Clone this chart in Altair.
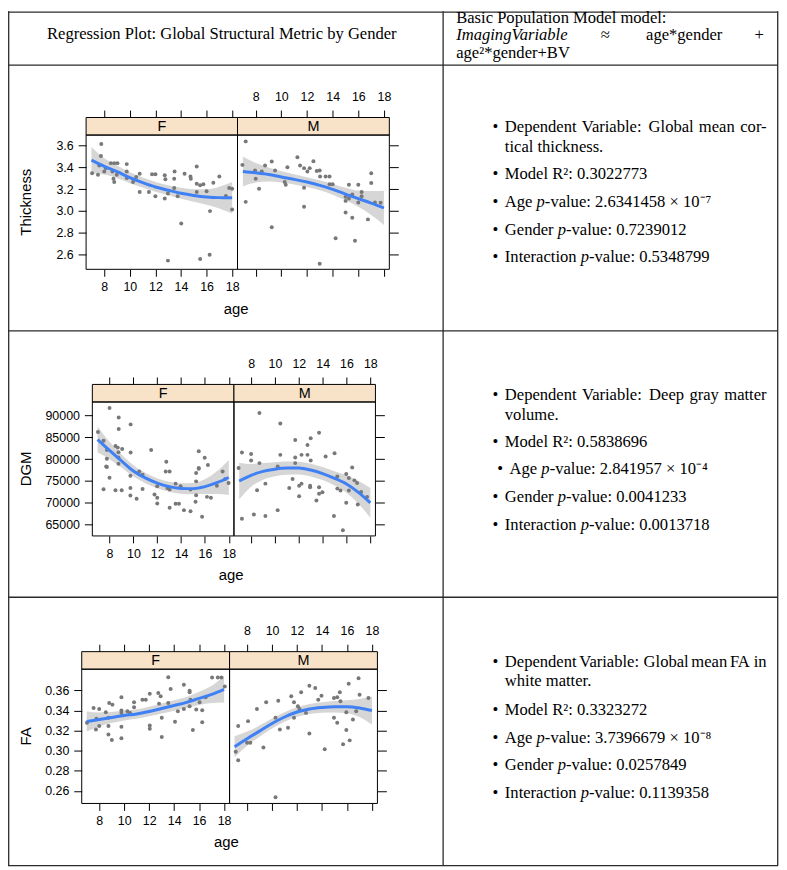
import altair as alt
import pandas as pd

# ---------------- values ----------------
curve_age = [7, 8, 9, 10, 11, 12, 13, 14, 15, 16, 17, 18]
x_ticks = [8, 10, 12, 14, 16, 18]
panel_names = ["F", "M"]
y_titles = ["Thickness", "DGM", "FA"]
y_ticks = [[2.6, 2.8, 3.0, 3.2, 3.4, 3.6],
           [65000, 70000, 75000, 80000, 85000, 90000],
           [0.26, 0.28, 0.30, 0.32, 0.34, 0.36]]
y_formats = [".1f", "d", ".2f"]

# Thickness
thk_F_age = [7.77, 7.74, 7.05, 7.51, 7.61, 8.00, 8.13, 8.52, 8.78, 9.03, 8.64, 8.72, 8.78, 8.98,
             9.76, 9.76, 9.76, 10.25, 10.50, 10.77, 10.77, 11.49, 11.74, 12.00, 12.00, 12.73,
             12.78, 12.73, 12.98, 13.50, 13.47, 13.47, 12.98, 14.02, 14.28, 14.74, 14.77, 13.74,
             15.23, 15.23, 15.23, 15.50, 15.75, 16.00, 16.27, 15.50, 16.24, 16.53, 17.00, 17.51,
             17.77, 18.00, 18.00]
thk_F_val = [3.615, 3.505, 3.347, 3.332, 3.418, 3.363, 3.393, 3.439, 3.439, 3.439, 3.363, 3.296,
             3.265, 3.332, 3.430, 3.363, 3.302, 3.265, 3.311, 3.341, 3.174, 3.174, 3.336, 3.336,
             3.135, 3.327, 3.290, 3.113, 3.159, 3.363, 3.296, 3.211, 2.543, 2.885, 3.341, 3.317,
             3.296, 3.135, 3.409, 3.250, 3.174, 3.235, 3.244, 3.180, 2.998, 2.557, 2.597, 3.259,
             3.317, 3.138, 3.211, 3.204, 3.013]
thk_M_age = [7.22, 6.96, 7.22, 7.95, 8.00, 8.26, 8.47, 8.73, 9.25, 9.25, 9.51, 10.26, 10.34, 10.47,
             11.25, 11.46, 11.77, 11.77, 11.77, 12.03, 12.21, 12.50, 12.76, 12.99, 13.02, 13.45,
             13.76, 13.76, 14.00, 12.99, 14.23, 15.01, 15.01, 15.01, 15.27, 15.27, 15.53, 15.53,
             15.74, 16.00, 16.00, 16.26, 16.26, 16.75, 17.01, 17.01, 17.30, 17.74]
thk_M_val = [3.639, 3.423, 3.083, 3.372, 3.296, 3.204, 3.363, 3.418, 3.454, 2.849, 3.372, 3.265,
             3.241, 3.402, 3.493, 3.418, 3.393, 3.213, 3.038, 3.363, 3.393, 3.456, 3.366, 3.372,
             3.317, 3.317, 3.317, 3.244, 3.244, 2.515, 2.749, 3.129, 3.092, 2.986, 3.241, 3.113,
             3.150, 2.937, 2.725, 3.241, 3.077, 3.174, 3.135, 2.922, 3.347, 3.256, 3.077, 3.074]
thk_F_fit = [3.467, 3.41, 3.36, 3.305, 3.26, 3.22, 3.19, 3.162, 3.142, 3.128, 3.122, 3.121]
thk_F_half = [0.12, 0.075, 0.058, 0.05, 0.046, 0.045, 0.046, 0.05, 0.058, 0.072, 0.1, 0.145]
thk_M_fit = [3.362, 3.35, 3.335, 3.312, 3.29, 3.265, 3.235, 3.198, 3.155, 3.112, 3.072, 3.028]
thk_M_half = [0.137, 0.09, 0.065, 0.052, 0.047, 0.045, 0.046, 0.05, 0.058, 0.075, 0.11, 0.157]

# Deep gray matter
dgm_F_age = [7.03, 8.00, 7.50, 7.78, 8.77, 8.77, 8.50, 8.69, 9.06, 8.75, 7.78, 8.75, 7.72, 8.75,
             9.77, 9.77, 11.49, 12.76, 15.48, 15.98, 16.25, 15.48,
             7.78, 8.00, 7.50, 8.50, 9.02, 9.75, 9.75, 9.75, 10.27, 10.49, 10.77, 10.77, 11.77,
             12.00, 12.00, 12.00, 12.71, 13.04, 12.85, 13.04, 13.04, 13.54, 13.54, 13.82, 13.96,
             14.24, 14.79, 14.79, 15.26, 15.26, 15.21, 15.26, 15.48, 15.76, 16.17, 16.50, 17.00,
             17.48, 17.70, 17.98]
dgm_F_val = [86200, 91730, 84230, 82110, 89550, 86890, 83020, 82640, 82340, 81590, 80070, 80360,
             78320, 78930, 87960, 81500, 82110, 79390, 81820, 80300, 78640, 77960,
             78180, 75750, 73090, 72860, 72860, 76200, 73410, 71660, 70910, 77180, 76430, 73180,
             71890, 71140, 69840, 73770, 77180, 77180, 73410, 73020, 68860, 74390, 69770, 69770,
             73770, 68320, 68090, 73020, 74910, 71730, 70230, 76820, 77800, 66820, 71360, 71140,
             73930, 77180, 75460, 74550]
dgm_M_age = [8.70, 10.45, 7.23, 8.00, 8.00, 8.70, 10.45, 10.23, 11.70, 11.70, 11.70, 12.23, 12.73,
             12.73, 13.00, 13.00, 13.70, 14.25, 15.00, 16.48, 6.95,
             7.23, 8.50, 8.23, 9.20, 9.20, 10.23, 11.20, 11.48, 12.03, 12.03, 12.23, 12.95, 12.95,
             13.48, 13.70, 13.70, 13.98, 14.95, 15.23, 15.23, 15.50, 15.70, 15.98, 15.98, 16.20,
             16.20, 16.67, 16.89, 16.95, 17.23, 17.73]
dgm_M_val = [90590, 88180, 81500, 81200, 79680, 79090, 80980, 78320, 84390, 80360, 79090, 80980,
             80980, 83250, 84770, 79680, 86050, 80590, 81360, 78090, 77960,
             66360, 72860, 67340, 74390, 66980, 68320, 73410, 75460, 71500, 73930, 74390, 73930,
             73550, 70520, 73550, 72050, 72410, 66980, 76050, 73250, 72800, 63700, 76590, 70000,
             75680, 72800, 75140, 74550, 69610, 72500, 71360]
dgm_F_fit = [84500, 82000, 79600, 77300, 75700, 74500, 73700, 73300, 73250, 73700, 74600, 75800]
dgm_F_half = [3000, 2000, 1500, 1300, 1200, 1150, 1150, 1200, 1300, 1700, 2600, 4000]
dgm_M_fit = [75000, 76300, 77200, 77700, 77950, 77950, 77500, 76700, 75600, 74300, 72400, 70000]
dgm_M_half = [4200, 2600, 1900, 1600, 1500, 1450, 1450, 1500, 1650, 2000, 2600, 3400]

# FA
fa_F_age = [7.02, 7.55, 8.00, 7.78, 7.74, 8.00, 8.53, 8.74, 8.74, 8.74, 8.80, 9.06, 9.78, 9.78,
            9.78, 10.26, 10.47, 10.79, 10.79, 9.78, 11.46, 11.73, 12.05, 12.05, 12.05, 12.73,
            12.92, 12.79, 13.01, 13.53, 13.53, 13.72, 14.07, 14.30, 14.78, 14.78, 15.24, 15.24,
            15.31, 15.24, 15.50, 15.77, 16.04, 16.25, 16.25, 16.52, 17.04, 17.50, 17.79, 18.06,
            9.01, 9.78, 13.01]
fa_F_val = [0.3278, 0.3425, 0.3415, 0.3317, 0.3211, 0.3245, 0.3383, 0.3327, 0.3245, 0.3162,
            0.3475, 0.3458, 0.3399, 0.3376, 0.3238, 0.3393, 0.3376, 0.3482, 0.3432, 0.3531,
            0.3507, 0.3507, 0.3566, 0.3251, 0.3218, 0.3573, 0.3541, 0.3468, 0.3327, 0.3731,
            0.3475, 0.3613, 0.3287, 0.3393, 0.3655, 0.3415, 0.3596, 0.3580, 0.3507, 0.3442,
            0.3206, 0.3409, 0.3482, 0.3403, 0.3284, 0.3531, 0.3728, 0.3728, 0.3728, 0.3639,
            0.3107, 0.3123, 0.3136]
fa_M_age = [7.29, 8.08, 8.79, 9.53, 10.50, 10.28, 10.63, 11.28, 11.54, 11.76, 11.76, 12.07, 12.20,
            12.33, 12.72, 12.99, 12.99, 13.46, 13.70, 13.96, 14.96, 15.22, 15.48, 14.96, 15.22,
            15.43, 16.14, 15.95, 15.95, 16.48, 16.74, 16.93, 17.01, 17.72, 7.09, 7.29, 8.00, 8.26,
            9.31, 10.28, 14.22, 15.69, 16.22]
fa_M_val = [0.3245, 0.3294, 0.3415, 0.3482, 0.3497, 0.3327, 0.3211, 0.3228, 0.3541, 0.3482,
            0.3327, 0.3442, 0.3415, 0.3580, 0.3376, 0.3645, 0.3172, 0.3623, 0.3507, 0.3547,
            0.3524, 0.3531, 0.3492, 0.3327, 0.3278, 0.3580, 0.3665, 0.3383, 0.3206, 0.3310,
            0.3393, 0.3721, 0.3557, 0.3524, 0.2989, 0.2906, 0.3080, 0.3080, 0.3031, 0.2538,
            0.3014, 0.3064, 0.3103]
fa_F_fit = [0.329, 0.331, 0.333, 0.335, 0.3365, 0.339, 0.342, 0.345, 0.348, 0.352, 0.356, 0.361]
fa_F_half = [0.01, 0.007, 0.0055, 0.005, 0.0048, 0.0048, 0.005, 0.0052, 0.0055, 0.0065, 0.0085, 0.013]
fa_M_fit = [0.304, 0.312, 0.3195, 0.327, 0.3335, 0.3385, 0.3415, 0.343, 0.3437, 0.3437, 0.3425, 0.340]
fa_M_half = [0.0105, 0.007, 0.0055, 0.005, 0.0048, 0.0048, 0.005, 0.0052, 0.0056, 0.0065, 0.009, 0.014]

# table text
header_left = "Regression Plot: Global Structural Metric by Gender"
header_right_1 = "Basic Population Model model:"
header_right_2 = ["ImagingVariable", "\u2248", "age*gender", "+"]
header_right_3 = "age\u00b2*gender+BV"
dep_var_words = [["Dependent", "Variable:", "Global", "mean", "cor-"],
                 ["Dependent", "Variable:", "Deep", "gray", "matter"],
                 ["Dependent", "Variable:", "Global", "mean", "FA", "in"]]
dep_var_line2 = ["tical thickness.", "volume.", "white matter."]
model_r2 = ["0.3022773", "0.5838696", "0.3323272"]
age_p = ["2.6341458 \u00d7 10\u207b\u2077", "2.841957 \u00d7 10\u207b\u2074", "3.7396679 \u00d7 10\u207b\u2078"]
gender_p = ["0.7239012", "0.0041233", "0.0257849"]
inter_p = ["0.5348799", "0.0013718", "0.1139358"]

series = [
    [(thk_F_age, thk_F_val, thk_F_fit, thk_F_half), (thk_M_age, thk_M_val, thk_M_fit, thk_M_half)],
    [(dgm_F_age, dgm_F_val, dgm_F_fit, dgm_F_half), (dgm_M_age, dgm_M_val, dgm_M_fit, dgm_M_half)],
    [(fa_F_age, fa_F_val, fa_F_fit, fa_F_half), (fa_M_age, fa_M_val, fa_M_fit, fa_M_half)],
]

# ---------------- layout (pixels) ----------------
W, H = 777, 862
ROW = [
    dict(xF=(78.7, 231.3), xM=(231.3, 384.3), top=124.7, bot=260.0, strip=107.0,
         xdom=[6.58, 18.42], ydom=[2.463, 3.697], age=(230, 300)),
    dict(xF=(85.0, 227.7), xM=(227.7, 370.3), top=393.7, bot=528.7, strip=376.0,
         xdom=[6.56, 18.43], ydom=[62409, 93091], age=(224.8, 568)),
    dict(xF=(74.3, 223.3), xM=(223.3, 372.3), top=663.0, bot=798.3, strip=645.3,
         xdom=[6.6, 18.44], ydom=[0.2476, 0.381], age=(220, 837)),
]
TEXT_Y = [[117, 137, 164.3, 192, 220.3, 248],
          [387, 407, 434.3, 461.3, 489.7, 517.3],
          [656, 674.7, 703.7, 732, 759.7, 787.3]]
FS = 16.7
SERIF = "Liberation Serif"
SANS = "Liberation Sans"
LABEL_W = {"Age": 32.0, "Gender": 53.3, "Interaction": 76.5}
P_W = 8.35
# word widths in em (Times metrics) used for justified lines
WORD_EM = {"Dependent": 4.332, "Variable:": 3.721, "Global": 2.722, "mean": 2.166,
           "cor-": 1.610, "Deep": 2.110, "gray": 1.777, "matter": 2.555, "FA": 1.278,
           "in": 0.778}
TX0, TX1, BX = 500.7, 764.5, 488.3

one = pd.DataFrame({"k": [0]})


def text(s, x, y, size=FS, font=SERIF, style="normal", align="left", angle=0):
    kw = dict(text=s, font=font, fontSize=size, fontStyle=style, align=align,
              baseline="middle", color="black")
    if angle:
        kw["angle"] = angle
    return alt.Chart(one).mark_text(**kw).encode(x=alt.value(x), y=alt.value(y))


def justified(words, x0, x1, y):
    widths = [WORD_EM[w] * FS for w in words]
    gap = (x1 - x0 - sum(widths)) / (len(words) - 1)
    out, x = [], x0
    for k, (w, wd) in enumerate(zip(words, widths)):
        if k == len(words) - 1:
            out.append(text(w, x1, y, align="right"))
        else:
            out.append(text(w, x, y))
        x += wd + gap
    return out


def hline(y, x1, x2, color="#2a2a2a", w=1.3):
    return alt.Chart(one).mark_rule(color=color, strokeWidth=w).encode(
        x=alt.value(x1), x2=alt.value(x2), y=alt.value(y))


def vline(x, y1, y2, color="#2a2a2a", w=1.3):
    return alt.Chart(one).mark_rule(color=color, strokeWidth=w).encode(
        x=alt.value(x), y=alt.value(y1), y2=alt.value(y2))


def box(x1, x2, y1, y2, fill=None):
    if fill:
        m = alt.Chart(one).mark_rect(fill=fill, stroke="black", strokeWidth=1)
    else:
        m = alt.Chart(one).mark_rect(fillOpacity=0, stroke="black", strokeWidth=1)
    return m.encode(x=alt.value(x1), x2=alt.value(x2), y=alt.value(y1), y2=alt.value(y2))


AX = dict(domain=False, grid=False, title=None, tickColor="black", tickWidth=1,
          labelColor="black", labelFont=SANS, labelFontSize=12.5, labelFlush=False,
          labelOverlap=False)

layers = []

# table grid
layers += [
    hline(0.7, 0, W - 1), hline(54.3, 0, W - 1), hline(322, 0, W - 1),
    hline(590.5, 0, W - 1), hline(861, 0, W - 1),
    vline(0.7, 0, 861), vline(438.5, 0, 861), vline(775.7, 0, 861),
]

# header
layers += [
    text(header_left, 215.5, 23, align="center"),
    text(header_right_1, 451.7, 6.5),
    text(header_right_2[0], 451.7, 24, style="italic"),
    text(header_right_2[1], 602, 24, align="center"),
    text(header_right_2[2], 643, 24),
    text(header_right_2[3], 757, 24, align="center"),
    text(header_right_3, 451.7, 42),
]

# right column text
for i in range(3):
    ys = TEXT_Y[i]
    layers += [text("\u2022", BX, ys[0])]
    layers += justified(dep_var_words[i], TX0, TX1, ys[0])
    layers += [text(dep_var_line2[i], TX0, ys[1]),
               text("\u2022", BX, ys[2]), text("Model R\u00b2: " + model_r2[i], TX0, ys[2])]
    for lab, val, yy in [("Age", age_p[i], ys[3]), ("Gender", gender_p[i], ys[4]),
                         ("Interaction", inter_p[i], ys[5])]:
        shift = 4.8 if (i == 1 and lab == "Age") else 0
        x0 = TX0 + shift
        layers += [text("\u2022", BX + shift, yy), text(lab, x0, yy),
                   text("p", x0 + LABEL_W[lab], yy, style="italic"),
                   text("-value: " + val, x0 + LABEL_W[lab] + P_W, yy)]

# plots
for i in range(3):
    R = ROW[i]
    for j, g in enumerate(panel_names):
        ages, vals, fit, half = series[i][j]
        xr = R["xF"] if g == "F" else R["xM"]
        xs = alt.Scale(domain=R["xdom"], range=list(xr), nice=False, zero=False)
        ysc = alt.Scale(domain=R["ydom"], range=[R["bot"], R["top"]], nice=False, zero=False)
        pts = pd.DataFrame({"age": ages, "val": vals})
        cur = pd.DataFrame({"age": curve_age, "fit": fit, "half": half})
        cur["lo"] = cur["fit"] - cur["half"]
        cur["hi"] = cur["fit"] + cur["half"]

        if g == "F":
            pts_xax = alt.Axis(orient="bottom", offset=R["bot"] - H, values=x_ticks,
                               tickSize=7, labelPadding=4.5, format="d", **AX)
            pts_yax = alt.Axis(orient="left", offset=-xr[0], values=y_ticks[i],
                               format=y_formats[i], tickSize=8, labelPadding=5, **AX)
            band_xax = alt.Axis(orient="top", offset=-R["strip"], values=x_ticks,
                                tickSize=7.5, labels=False, **AX)
        else:
            pts_xax = alt.Axis(orient="top", offset=-R["strip"], values=x_ticks,
                               tickSize=7.5, labelPadding=6.5, format="d", **AX)
            pts_yax = alt.Axis(orient="right", offset=xr[1] - W, values=y_ticks[i],
                               tickSize=9, labels=False, **AX)
            band_xax = alt.Axis(orient="bottom", offset=R["bot"] - H, values=x_ticks,
                                tickSize=7, labels=False, **AX)

        band = alt.Chart(cur).mark_area(color="#d6d6d6", opacity=1, interpolate="monotone").encode(
            x=alt.X("age:Q", scale=xs, axis=band_xax),
            y=alt.Y("lo:Q", scale=ysc, axis=None),
            y2="hi:Q")
        dots = alt.Chart(pts).mark_circle(size=16, color="#787878", opacity=1).encode(
            x=alt.X("age:Q", scale=xs, axis=pts_xax),
            y=alt.Y("val:Q", scale=ysc, axis=pts_yax))
        line = alt.Chart(cur).mark_line(color="#3f80f5", strokeWidth=3, interpolate="monotone").encode(
            x=alt.X("age:Q", scale=xs, axis=None),
            y=alt.Y("fit:Q", scale=ysc, axis=None))
        layers += [band, dots, line]

    # frames, strips and labels
    for g in panel_names:
        xr = R["xF"] if g == "F" else R["xM"]
        layers += [box(xr[0], xr[1], R["strip"], R["top"], fill="#f8e2c8"),
                   box(xr[0], xr[1], R["top"], R["bot"]),
                   text(g, (xr[0] + xr[1]) / 2, (R["strip"] + R["top"]) / 2 + 0.5,
                        size=14.5, font=SANS, align="center")]
    layers += [text("age", R["age"][0], R["age"][1], size=15, font=SANS, align="center"),
               text(y_titles[i], 18, (R["top"] + R["bot"]) / 2, size=15, font=SANS,
                    align="center", angle=270)]

chart = alt.layer(*layers).resolve_scale(x="independent", y="independent").properties(
    width=W, height=H, autosize=alt.AutoSizeParams(type="none"), padding=0
).configure_view(stroke="transparent")

chart.save("out.html", embed_options={"renderer": "svg", "actions": False})
